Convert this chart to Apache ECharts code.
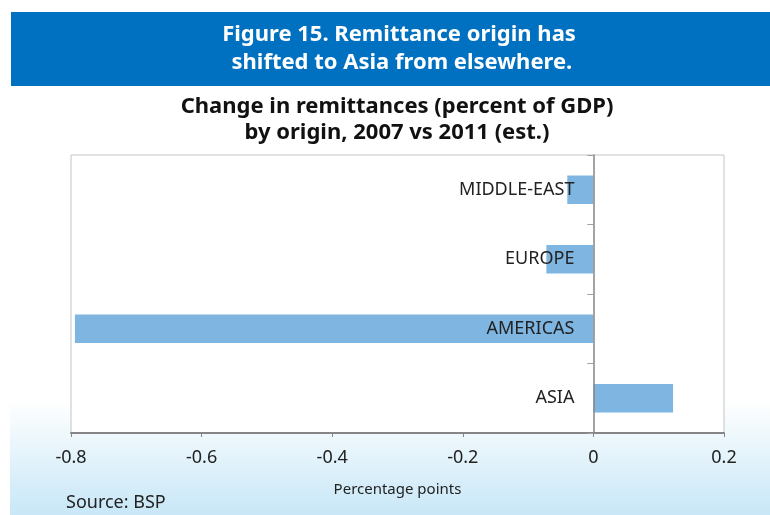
<!DOCTYPE html>
<html>
<head>
<meta charset="utf-8">
<script src="https://cdn.jsdelivr.net/npm/echarts@6/dist/echarts.min.js"></script>
<style>
html,body{margin:0;padding:0;background:#fff;}
#c{width:770px;height:515px;}
</style>
</head>
<body>
<div id="c"></div>
<script>
const categories = ['ASIA', 'AMERICAS', 'EUROPE', 'MIDDLE-EAST'];
const values = [0.122, -0.794, -0.072, -0.04];
const xTicks = { min: -0.8, max: 0.2, interval: 0.2 };
const headerLines = ['Figure 15. Remittance origin has', ' shifted to Asia from elsewhere.'];
const subtitleLines = ['Change in remittances (percent of GDP)', 'by origin, 2007 vs 2011 (est.)'];

const FONT = '"Noto Sans", sans-serif';
const GRID_LEFT = 71, GRID_RIGHT = 46, WIDTH = 770;
const plotW = WIDTH - GRID_LEFT - GRID_RIGHT;
const zeroOffset = -plotW * (0 - xTicks.min) / (xTicks.max - xTicks.min);

const chart = echarts.init(document.getElementById('c'), null, { renderer: 'canvas' });
chart.setOption({
  animation: false,
  backgroundColor: '#ffffff',
  graphic: [
    { type: 'rect', z: -10, silent: true, shape: { x: 10, y: 400, width: 760, height: 115 },
      style: { fill: new echarts.graphic.LinearGradient(0, 0, 0, 1, [
        { offset: 0, color: '#ffffff' }, { offset: 1, color: '#c8e7f7' }]) } },
    { type: 'rect', z: -5, silent: true, shape: { x: 11, y: 12, width: 759, height: 74 },
      style: { fill: '#0070c0' } },
    { type: 'text', z: 10, silent: true,
      style: { x: 399, y: 35, text: headerLines[0], fill: '#ffffff', font: 'bold 22px ' + FONT,
        textAlign: 'center', textVerticalAlign: 'middle' } },
    { type: 'text', z: 10, silent: true,
      style: { x: 399, y: 63, text: headerLines[1], fill: '#ffffff', font: 'bold 22px ' + FONT,
        textAlign: 'center', textVerticalAlign: 'middle' } },
    { type: 'text', z: 10, silent: true,
      style: { x: 397, y: 107, text: subtitleLines[0], fill: '#111111', font: 'bold 22px ' + FONT,
        textAlign: 'center', textVerticalAlign: 'middle' } },
    { type: 'text', z: 10, silent: true,
      style: { x: 397, y: 133, text: subtitleLines[1], fill: '#111111', font: 'bold 22px ' + FONT,
        textAlign: 'center', textVerticalAlign: 'middle' } },
    { type: 'text', z: 10, silent: true,
      style: { x: 66, y: 503, text: 'Source: BSP', fill: '#222222', font: '18px ' + FONT,
        textVerticalAlign: 'middle' } }
  ],
  grid: { left: GRID_LEFT, right: GRID_RIGHT, top: 155, bottom: 82, show: true, borderColor: '#c4c4c4', borderWidth: 1,
    backgroundColor: '#ffffff', containLabel: false, outerBoundsMode: 'none' },
  xAxis: {
    type: 'value', min: xTicks.min, max: xTicks.max, interval: xTicks.interval,
    name: 'Percentage points', nameLocation: 'middle', nameGap: 49,
    nameTextStyle: { fontSize: 15, color: '#222', fontFamily: FONT },
    axisLine: { show: true, onZero: false, lineStyle: { color: '#868686', width: 2 } },
    axisTick: { show: true, length: 4, lineStyle: { color: '#868686' } },
    axisLabel: { fontSize: 18, color: '#222', margin: 16, fontFamily: FONT,
      formatter: v => (Math.round(v * 10) / 10).toString() },
    splitLine: { show: false }
  },
  yAxis: {
    type: 'category', data: categories, position: 'left', offset: zeroOffset, z: 5,
    axisLine: { show: true, onZero: false, lineStyle: { color: '#868686', width: 1.5 } },
    axisTick: { show: true, length: 6, lineStyle: { color: '#a0a0a0' } },
    axisLabel: { fontSize: 18, color: '#222', margin: 19, fontFamily: FONT },
    splitLine: { show: false }
  },
  series: [{
    type: 'bar', data: values, barWidth: '41%',
    itemStyle: { color: '#7fb5e1' }, z: 1
  }]
});
</script>
</body>
</html>
